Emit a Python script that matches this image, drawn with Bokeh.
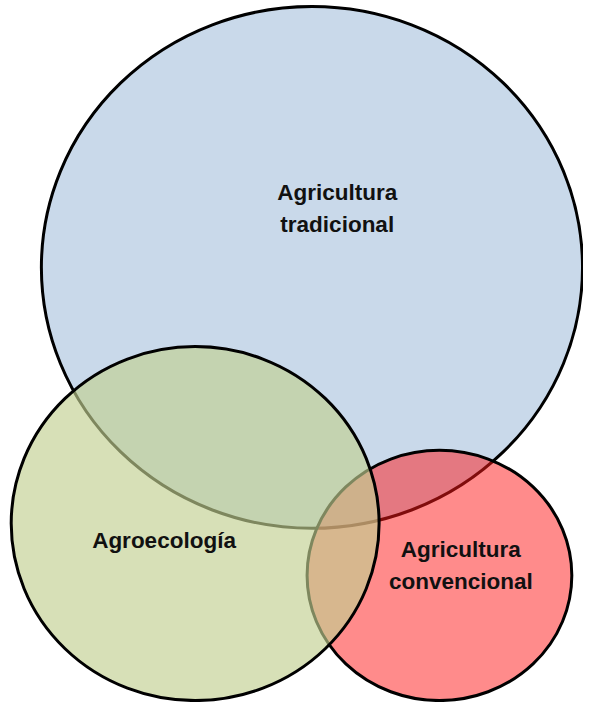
from bokeh.plotting import figure
from bokeh.models import ColumnDataSource, Range1d
from bokeh.core.properties import value
from bokeh.embed import file_html
from bokeh.resources import INLINE

# Sets (drawn in this order: blue, red, green)
set_names = ["Agricultura tradicional", "Agricultura convencional", "Agroecología"]
center_x = [320, 451, 200]
center_y = [273, 588, 535]
radius_x = [278, 136, 189]
radius_y = [267, 128, 181]
fill_colors = ["#C9D9EA", "#FF1818", "#C2CF90"]
fill_alphas = [1.0, 0.5, 0.65]

# Labels
label_text = ["Agricultura\ntradicional", "Agroecología", "Agricultura\nconvencional"]
label_x = [346, 168, 473]
label_y = [213, 552, 578]

p = figure(width=583, height=702, output_backend="svg", toolbar_location=None,
           x_range=Range1d(0, 599), y_range=Range1d(718, 0),
           min_border=0, outline_line_color=None)
p.axis.visible = False
p.grid.visible = False
p.background_fill_color = "white"
p.border_fill_color = "white"

src = ColumnDataSource(dict(
    x=center_x, y=center_y,
    w=[2 * r for r in radius_x], h=[2 * r for r in radius_y],
    fc=fill_colors, fa=fill_alphas, name=set_names))
p.ellipse(x="x", y="y", width="w", height="h", source=src,
          fill_color="fc", fill_alpha="fa", line_color="black", line_width=3)

lsrc = ColumnDataSource(dict(x=label_x, y=label_y, t=label_text))
p.text(x="x", y="y", text="t", source=lsrc, text_align="center", text_baseline="middle",
       text_font=value("Liberation Sans"), text_font_style="bold",
       text_font_size="22.5px", text_color="#111111", text_line_height=1.28)

open("out.html", "w").write(file_html(p, INLINE))
